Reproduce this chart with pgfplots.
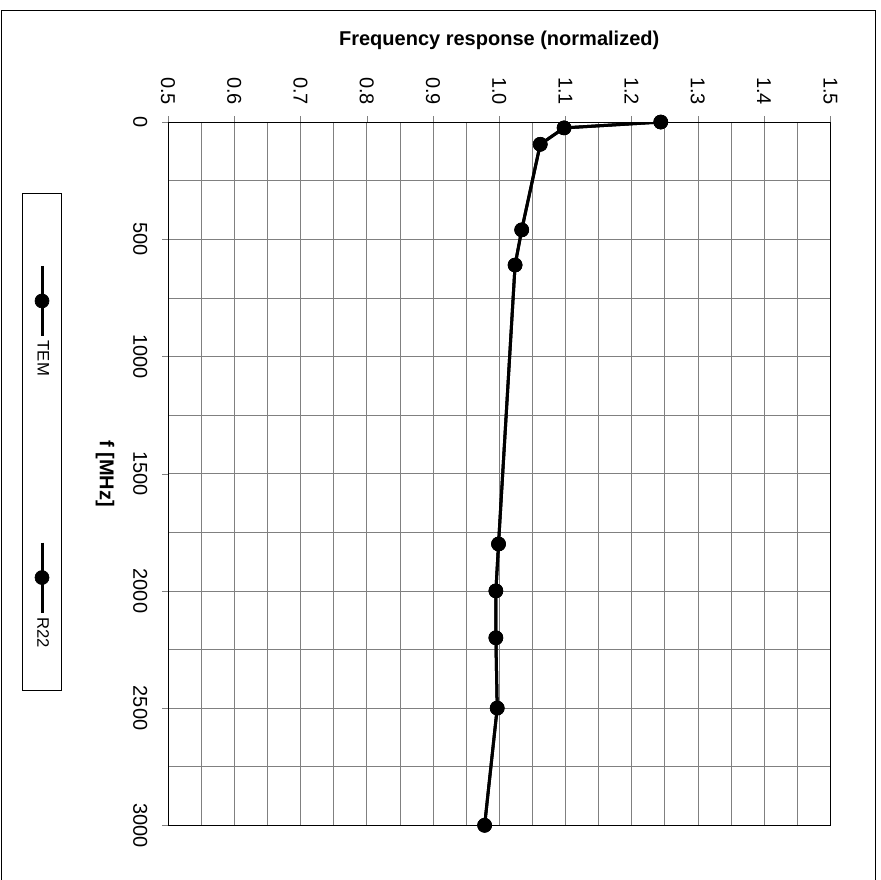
\documentclass[border=0pt]{standalone}
\usepackage{fontspec}
\setmainfont{Liberation Sans}
\usepackage{pgfplots}
\usepackage{pgfplotstable}
\pgfplotsset{compat=1.18}

% frequency [MHz], normalized response
\pgfplotstableread{
f val
0 1.244
25 1.098
95 1.062
460 1.034
610 1.024
1800 0.999
2000 0.995
2200 0.995
2500 0.997
3000 0.978
}\tem
\pgfplotstableread{
f val
0 1.244
25 1.098
95 1.062
460 1.034
610 1.024
1800 0.999
2000 0.995
2200 0.995
2500 0.997
3000 0.978
}\rtt

\begin{document}
\begin{tikzpicture}[rotate=-90, transform shape]
\begin{axis}[
  scale only axis,
  width=421.8pt, height=397.2pt,
  xmin=0, xmax=3000, ymin=0.5, ymax=1.5,
  xtick={0,500,1000,1500,2000,2500,3000},
  minor xtick={250,750,1250,1750,2250,2750},
  ytick={0.5,0.6,0.7,0.8,0.9,1.0,1.1,1.2,1.3,1.4,1.5},
  minor ytick={0.55,0.65,0.75,0.85,0.95,1.05,1.15,1.25,1.35,1.45},
  grid=both,
  major grid style={black!50, line width=0.4pt},
  minor grid style={black!50, line width=0.4pt},
  xtick pos=bottom, ytick pos=left,
  tick align=outside, major tick length=3.6pt, minor tick length=0pt,
  axis line style={black, line width=0.6pt},
  /pgf/number format/assume math mode=true,
  xticklabel={\pgfmathprintnumber[1000 sep={}]{\tick}},
  yticklabel={\pgfmathprintnumber[fixed, fixed zerofill, precision=1]{\tick}},
  tick label style={font=\fontsize{12}{14}\selectfont},
  xticklabel style={anchor=center, yshift=-13pt},
  yticklabel style={anchor=center, xshift=-15pt},
  xlabel={f [MHz]},
  ylabel={Frequency response (normalized)},
  every axis x label/.style={at={(rel axis cs:0.5,0)}, yshift=-37.8pt, anchor=center,
    font=\bfseries\fontsize{12}{14}\selectfont},
  every axis y label/.style={at={(rel axis cs:0,0.5)}, xshift=-49pt, rotate=90, anchor=center,
    font=\bfseries\fontsize{12}{14}\selectfont},
  legend columns=2,
  legend image code/.code={\path (0pt,0pt);
    \draw[mark repeat=2, mark phase=2, #1]
    plot coordinates {(19pt,0pt) (40pt,0pt) (61pt,0pt)};},
  legend style={at={(rel axis cs:0.455,0)}, yshift=-75.6pt, anchor=center,
    draw=black, line width=0.5pt, inner xsep=23.5pt, inner ysep=5.5pt,
    font=\fontsize{10}{12}\selectfont,
    /tikz/every even column/.append style={column sep=78pt}},
]
\addplot[black, line width=1.8pt, mark=*, mark size=4.2pt,
  mark options={line width=0.4pt, fill=black}] table[x=f, y=val] {\tem};
\addlegendentry{TEM}
\addplot[black, line width=1.8pt, mark=*, mark size=4.2pt,
  mark options={line width=0.4pt, fill=black}] table[x=f, y=val] {\rtt};
\addlegendentry{R22}
\end{axis}
\draw[line width=0.6pt] (470pt,-99.6pt) -- (-67.2pt,-99.6pt) -- (-67.2pt,424.6pt) -- (470pt,424.6pt);
\pgfresetboundingbox
\path[use as bounding box] (-73.2pt,-100.8pt) rectangle (454.4pt,427.6pt);
\end{tikzpicture}
\end{document}
